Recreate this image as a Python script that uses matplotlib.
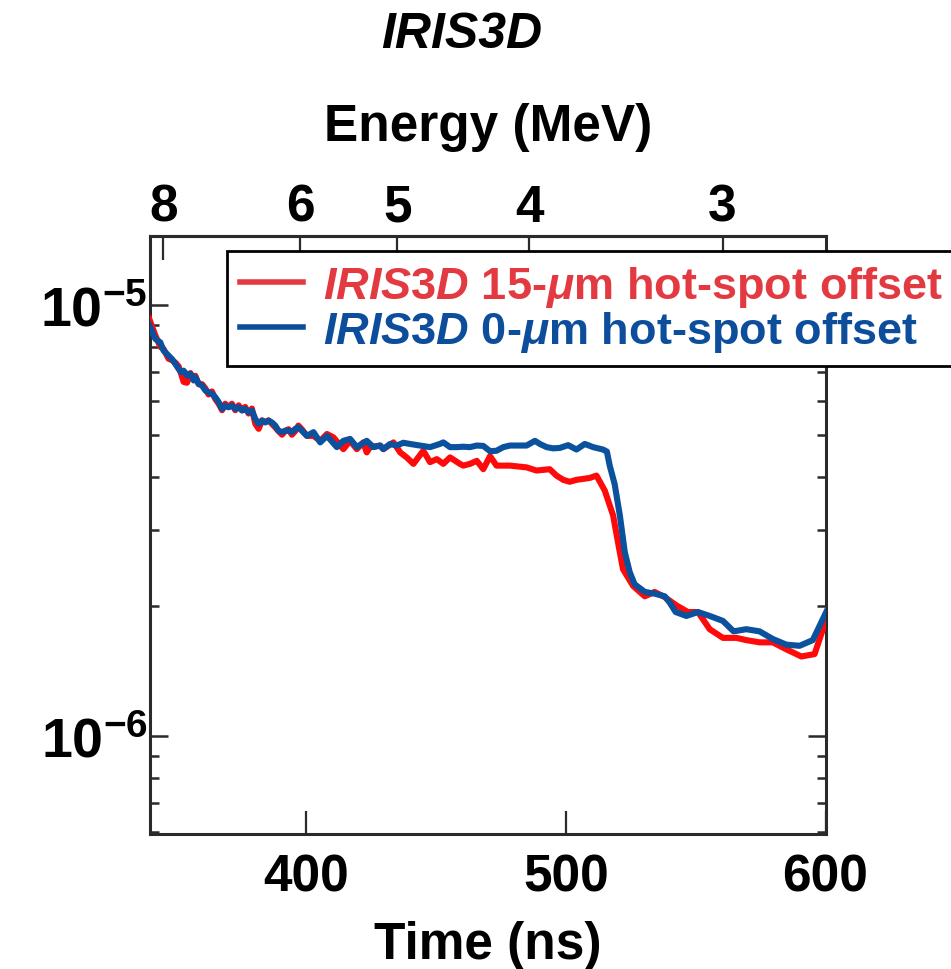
import matplotlib
matplotlib.use("Agg")
import matplotlib.pyplot as plt
import numpy as np
from matplotlib.lines import Line2D
from matplotlib.ticker import NullLocator, NullFormatter, LogLocator

plt.rcParams['font.family'] = ['Liberation Sans', 'DejaVu Sans']
plt.rcParams['font.weight'] = 'bold'
plt.rcParams['axes.labelweight'] = 'bold'
plt.rcParams['mathtext.fontset'] = 'custom'
plt.rcParams['mathtext.rm'] = 'Liberation Sans:bold'
plt.rcParams['mathtext.it'] = 'Liberation Sans:italic:bold'
plt.rcParams['mathtext.bf'] = 'Liberation Sans:bold'
plt.rcParams['mathtext.default'] = 'it'

# ---------------- data ----------------
time_blue = [339.5, 341.9, 343.8, 345.1, 347.0, 348.3, 349.6, 350.9, 351.9, 352.8,
             354.1, 355.4, 356.7, 357.3, 358.6, 359.9, 361.2, 362.4, 363.7, 365.0,
             366.3, 367.6, 368.8, 370.1, 371.4, 372.7, 374.0, 375.3, 376.5, 377.8,
             379.1, 380.4, 381.7, 383.0, 384.2, 385.5, 386.8, 388.1, 389.3, 390.7,
             391.9, 393.2, 394.5, 395.8, 397.0, 398.3,
             400.3, 402.8, 405.4, 408.0, 411.8, 414.3, 416.9, 419.5, 423.3, 425.9,
             428.5, 429.7, 432.3, 434.9, 437.4, 440.0, 443.8, 447.7, 451.5, 452.8,
             455.4, 458.0, 460.5, 463.1, 465.7, 468.2, 470.8, 473.3, 475.9, 478.5,
             484.9, 488.1, 490.0, 492.6, 495.1, 497.7, 500.9, 504.1, 507.3, 510.5,
             514.3, 515.8, 516.9, 518.8, 520.8, 522.7, 524.6, 526.5, 530.4, 534.2,
             538.1, 540.0, 542.3, 546.4, 550.9, 555.4, 560.5, 564.6, 569.5, 574.6,
             579.7, 584.9, 590.0, 595.1, 599.0, 600.8]
flux_blue = [9.00, 8.34, 8.19, 7.83, 7.63, 7.49, 7.30, 7.10, 6.98, 7.04,
             6.86, 6.92, 6.68, 6.80, 6.56, 6.50, 6.33, 6.27, 6.22, 6.11,
             5.95, 5.74, 5.84, 5.79, 5.84, 5.74, 5.79, 5.69, 5.74, 5.64,
             5.69, 5.44, 5.30, 5.39, 5.34, 5.39, 5.34, 5.25, 5.11, 5.07,
             5.11, 5.11, 5.07, 5.16, 5.20, 5.11,
             4.97, 5.07, 4.80, 4.97, 4.68, 4.84, 4.89, 4.68, 4.84, 4.68,
             4.72, 4.63, 4.76, 4.72, 4.79, 4.76, 4.72, 4.68, 4.76, 4.80,
             4.68, 4.68, 4.69, 4.68, 4.72, 4.71, 4.58, 4.59, 4.68, 4.72,
             4.72, 4.84, 4.76, 4.68, 4.65, 4.66, 4.73, 4.62, 4.76, 4.68,
             4.62, 4.57, 4.24, 3.84, 3.25, 2.67, 2.40, 2.25, 2.16, 2.14,
             2.11, 2.04, 1.94, 1.90, 1.94, 1.90, 1.85, 1.75, 1.77, 1.75,
             1.68, 1.63, 1.62, 1.67, 1.87, 1.97]

time_red = [339.5, 341.9, 343.8, 345.1, 347.0, 348.3, 349.6, 350.9, 351.9, 352.8,
            354.1, 355.4, 356.7, 357.3, 358.6, 359.9, 361.2, 362.4, 363.7, 365.0,
            366.3, 367.6, 368.8, 370.1, 371.4, 372.7, 374.0, 375.3, 376.5, 377.8,
            379.1, 380.4, 381.7, 383.0, 384.2, 385.5, 386.8, 388.1, 389.3, 390.7,
            391.9, 393.2, 394.5, 395.8, 397.0, 398.3,
            400.3, 402.8, 405.4, 408.0, 410.5, 413.1, 414.3, 416.9, 419.5, 422.0,
            423.3, 424.6, 428.5, 429.7, 433.6, 436.2, 438.7, 441.3, 445.1, 447.7,
            450.3, 452.8, 455.4, 459.2, 460.5, 463.1, 465.7, 468.2, 470.8, 473.3,
            478.5, 484.9, 488.7, 493.8, 496.4, 499.0, 501.5, 504.1, 509.2, 511.8,
            515.0, 518.2, 520.1, 522.0, 525.9, 530.4, 534.2, 538.1, 542.6, 547.0,
            550.9, 555.4, 560.5, 565.7, 569.5, 574.6, 579.7, 584.9, 590.7, 595.8,
            599.0, 601.5]
flux_red = [9.30, 8.50, 8.00, 7.90, 7.50, 7.45, 7.35, 7.20, 6.90, 6.63,
            6.60, 6.95, 6.70, 6.85, 6.55, 6.55, 6.40, 6.20, 6.30, 6.05,
            5.90, 5.70, 5.90, 5.80, 5.90, 5.70, 5.85, 5.70, 5.80, 5.60,
            5.75, 5.30, 5.16, 5.40, 5.35, 5.40, 5.30, 5.20, 5.10, 5.00,
            5.10, 5.15, 5.00, 5.10, 5.25, 5.15,
            4.97, 4.97, 4.84, 5.02, 4.93, 4.72, 4.63, 4.84, 4.63, 4.80,
            4.55, 4.68, 4.72, 4.63, 4.80, 4.55, 4.43, 4.28, 4.59, 4.32,
            4.39, 4.28, 4.43, 4.28, 4.24, 4.28, 4.35, 4.16, 4.46, 4.24,
            4.24, 4.20, 4.13, 4.16, 4.02, 3.93, 3.89, 3.93, 3.97, 4.02,
            3.71, 3.25, 2.81, 2.44, 2.23, 2.11, 2.16, 2.10, 2.01, 1.94,
            1.94, 1.77, 1.69, 1.69, 1.67, 1.65, 1.65, 1.59, 1.53, 1.55,
            1.77, 1.92]

scale = 1e-6
energy_ticks = [8, 6, 5, 4, 3]
time_ticks = [400, 500, 600]
labels = [r"$\mathit{IRIS3D}$ 15-$\mu$m hot-spot offset",
          r"$\mathit{IRIS3D}$ 0-$\mu$m hot-spot offset"]

# neutron time of flight  t = T0 + K / sqrt(E)
T0, K = 4.85, 962.2

def t2e(t):
    t = np.asarray(t, dtype=float)
    with np.errstate(divide='ignore', invalid='ignore'):
        return (K / np.maximum(t - T0, 1e-6)) ** 2

def e2t(e):
    e = np.asarray(e, dtype=float)
    with np.errstate(divide='ignore', invalid='ignore'):
        return T0 + K / np.sqrt(np.maximum(e, 1e-9))

RED = '#FF0A0A'
BLUE = '#0A519E'
RED_L = '#E33A42'
BLUE_L = '#0C4E9B'
SPINE = '#2A2A2A'

W, H = 951, 970
fig = plt.figure(figsize=(W / 100, H / 100), dpi=100)
x0, x1, y0, y1 = 150.4, 825.5, 237, 835
ax = fig.add_axes([x0 / W, 1 - y1 / H, (x1 - x0) / W, (y1 - y0) / H])

ax.plot(time_red, np.array(flux_red) * scale, color=RED, lw=4.4, zorder=3)
ax.plot(time_blue, np.array(flux_blue) * scale, color=BLUE, lw=4.4, zorder=4)

ax.set_yscale('log')
ax.set_xlim(340, 600)
ax.set_ylim(5.93e-7, 1.445e-5)

for s in ax.spines.values():
    s.set_linewidth(2.2)
    s.set_color(SPINE)

ax.set_xticks(time_ticks)
ax.xaxis.set_minor_locator(NullLocator())
ax.tick_params(axis='x', which='major', direction='in', length=16.5, width=1.6,
               color=SPINE, top=False, labelsize=37, pad=13)
ax.yaxis.set_major_locator(LogLocator(base=10, numticks=10))
ax.yaxis.set_minor_locator(LogLocator(base=10, subs=np.arange(2, 10), numticks=20))
ax.yaxis.set_minor_formatter(NullFormatter())
ax.tick_params(axis='y', which='major', direction='in', length=13, width=1.8,
               color=SPINE, left=True, right=True, labelsize=40, pad=2)
ax.tick_params(axis='y', which='minor', direction='in', length=6.5, width=1.8,
               color=SPINE, left=True, right=True)
ax.set_xlabel('Time (ns)', fontsize=37, fontweight='bold', labelpad=14)

sec = ax.secondary_xaxis('top', functions=(t2e, e2t))
sec.set_xticks(energy_ticks)
sec.set_xticklabels([str(e) for e in energy_ticks])
sec.xaxis.set_minor_locator(NullLocator())
sec.tick_params(axis='x', which='major', direction='in', length=17, width=1.6,
                color=SPINE, labelsize=37, pad=3)
sec.spines['top'].set_linewidth(2.2)
sec.spines['top'].set_color(SPINE)
sec.set_xlabel('Energy (MeV)', fontsize=37, fontweight='bold', labelpad=31)

fig.text(462 / W, 1 - 35 / H, 'IRIS3D', fontsize=36, fontstyle='italic',
         fontweight='bold', ha='center', va='center')

handles = [Line2D([], [], color=RED_L, lw=4),
           Line2D([], [], color=BLUE_L, lw=4)]
leg = fig.legend(handles, labels, loc='upper left',
                 bbox_to_anchor=(227 / W, 1 - 252 / H), borderaxespad=0,
                 fontsize=32.5, frameon=True, fancybox=False, framealpha=1,
                 edgecolor='black', handlelength=1.4, handletextpad=0.45,
                 borderpad=0.28, labelspacing=0.0, labelcolor=[RED_L, BLUE_L])
leg.get_frame().set_linewidth(2.0)
leg.set_zorder(10)

fig.savefig('out.png', dpi=100)
